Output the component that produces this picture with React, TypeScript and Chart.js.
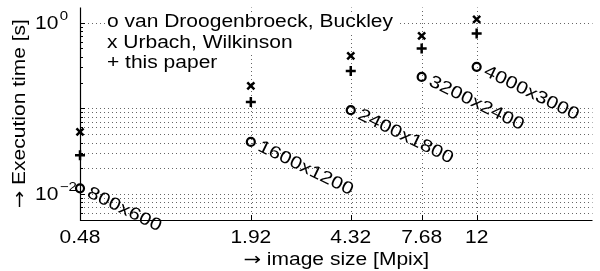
import React, { useEffect, useRef } from 'react';
import { Chart, registerables } from 'chart.js';

Chart.register(...registerables);

// ---- data ----
const sizesMpix = [0.48, 1.92, 4.32, 7.68, 12];
const resolutionLabels = ['800x600', '1600x1200', '2400x1800', '3200x2400', '4000x3000'];
const vanDroogenbroeck = [0.0117, 0.0407, 0.0953, 0.233, 0.305];
const urbachWilkinson = [0.0532, 0.183, 0.409, 0.7, 1.09];
const thisPaper = [0.0285, 0.119, 0.272, 0.499, 0.746];

const xTickValues = [0.48, 1.92, 4.32, 7.68, 12];
const xTickLabels = ['0.48', '1.92', '4.32', '7.68', '12'];
const yLabelValues = [1, 0.01];
const yLabelExponents = ['0', '\u22122'];
const yGridValues = [
  0.005, 0.006, 0.007, 0.008, 0.009, 0.01,
  0.02, 0.03, 0.04, 0.05, 0.06, 0.07, 0.08, 0.09, 0.1, 1,
];
const yTickMarkValues = [
  0.005, 0.006, 0.007, 0.008, 0.009, 0.01,
  0.02, 0.03, 0.04, 0.05, 0.06, 0.07, 0.08, 0.09, 0.1,
  0.2, 0.3, 0.4, 0.5, 0.6, 0.7, 0.8, 0.9, 1,
];
const legendLines = ['o van Droogenbroeck, Buckley', 'x Urbach, Wilkinson', '+ this paper'];
const ARROW = '\u2192';
const xTitle = ' image size [Mpix]';
const yTitle = ' Execution time [s]';

const X_MIN = 0.48;
const X_MAX = 30.72;
const Y_MIN = 0.005;
const Y_MAX = 1.5;

const FONT = '"Liberation Sans", Arial, Helvetica, sans-serif';
const ARROW_FONT = '"DejaVu Sans", sans-serif';
const STRETCH = 1.2;
const FS = 17.5;

function drawText(
  ctx: CanvasRenderingContext2D,
  text: string,
  x: number,
  y: number,
  size: number,
  align: CanvasTextAlign,
  angle = 0
) {
  ctx.save();
  ctx.translate(x, y);
  ctx.rotate(angle);
  ctx.scale(STRETCH, 1);
  ctx.font = `${size}px ${FONT}`;
  ctx.textAlign = align;
  ctx.textBaseline = 'alphabetic';
  ctx.fillStyle = '#000';
  ctx.fillText(text, 0, 0);
  ctx.restore();
}

function drawTitle(
  ctx: CanvasRenderingContext2D,
  text: string,
  x: number,
  y: number,
  angle = 0
) {
  ctx.save();
  ctx.translate(x, y);
  ctx.rotate(angle);
  ctx.scale(STRETCH, 1);
  ctx.textBaseline = 'alphabetic';
  ctx.textAlign = 'left';
  ctx.fillStyle = '#000';
  ctx.font = `${FS}px ${ARROW_FONT}`;
  const wa = ctx.measureText(ARROW).width;
  ctx.font = `${FS}px ${FONT}`;
  const wt = ctx.measureText(text).width;
  const x0 = -(wa + wt) / 2;
  ctx.font = `${FS}px ${ARROW_FONT}`;
  ctx.fillText(ARROW, x0, 0);
  ctx.font = `${FS}px ${FONT}`;
  ctx.fillText(text, x0 + wa, 0);
  ctx.restore();
}

function textWidth(ctx: CanvasRenderingContext2D, text: string, size: number) {
  ctx.save();
  ctx.font = `${size}px ${FONT}`;
  const w = ctx.measureText(text).width * STRETCH;
  ctx.restore();
  return w;
}

const gridPlugin = {
  id: 'matlabGrid',
  beforeDatasetsDraw(chart: any) {
    const ctx: CanvasRenderingContext2D = chart.ctx;
    const { left, right, top, bottom } = chart.chartArea;
    const xs = chart.scales.x;
    const ys = chart.scales.y;
    ctx.save();
    ctx.setLineDash([1, 3]);
    ctx.lineWidth = 1;
    ctx.strokeStyle = 'rgba(0,0,0,0.6)';
    for (const v of yGridValues) {
      const py = Math.round(ys.getPixelForValue(v)) + 0.5;
      if (py >= bottom - 1) continue;
      ctx.beginPath();
      ctx.moveTo(left, py);
      ctx.lineTo(right, py);
      ctx.stroke();
    }
    for (const v of xTickValues) {
      const px = Math.round(xs.getPixelForValue(v)) + 0.5;
      if (px <= left + 1) continue;
      ctx.beginPath();
      ctx.moveTo(px, bottom);
      ctx.lineTo(px, top);
      ctx.stroke();
    }
    ctx.restore();

    // legend text (with white background boxes, as in the figure)
    const lx = left + 27;
    legendLines.forEach((line, i) => {
      const by = top + 19.7 + i * 20.5;
      const w = textWidth(ctx, line, FS);
      ctx.save();
      ctx.fillStyle = '#fff';
      ctx.fillRect(lx - 2, by - 15, w + 6, 20);
      ctx.restore();
      drawText(ctx, line, lx, by, FS, 'left');
    });
  },
  afterDraw(chart: any) {
    const ctx: CanvasRenderingContext2D = chart.ctx;
    const { left, right, top, bottom } = chart.chartArea;
    const xs = chart.scales.x;
    const ys = chart.scales.y;

    ctx.save();
    ctx.setLineDash([]);
    ctx.strokeStyle = '#000';
    ctx.lineWidth = 1.2;
    ctx.beginPath();
    ctx.moveTo(left + 0.5, top);
    ctx.lineTo(left + 0.5, bottom + 0.5);
    ctx.lineTo(right, bottom + 0.5);
    ctx.stroke();
    ctx.lineWidth = 1;
    for (const v of xTickValues) {
      const px = Math.round(xs.getPixelForValue(v)) + 0.5;
      ctx.beginPath();
      ctx.moveTo(px, bottom);
      ctx.lineTo(px, bottom - 5);
      ctx.stroke();
    }
    for (const v of yTickMarkValues) {
      const py = Math.round(ys.getPixelForValue(v)) + 0.5;
      const major = Math.abs(Math.log10(v) - Math.round(Math.log10(v))) < 1e-9;
      ctx.beginPath();
      ctx.moveTo(left, py);
      ctx.lineTo(left + (major ? 5 : 3), py);
      ctx.stroke();
    }
    ctx.restore();

    xTickValues.forEach((v, i) => {
      drawText(ctx, xTickLabels[i], xs.getPixelForValue(v), bottom + 23.3, FS, 'center');
    });
    yLabelValues.forEach((v, i) => {
      const py = ys.getPixelForValue(v);
      const bx = 35;
      drawText(ctx, '10', bx, py + 6, FS, 'left');
      const w = textWidth(ctx, '10', FS);
      drawText(ctx, yLabelExponents[i], bx + w + 1.5, py - 3, 12.5, 'left');
    });
    drawTitle(ctx, xTitle, (left + right) / 2, bottom + 45);
    drawTitle(ctx, yTitle, 25, (top + bottom) / 2, -Math.PI / 2);

    const ang = (26 * Math.PI) / 180;
    sizesMpix.forEach((s, i) => {
      const px = xs.getPixelForValue(s);
      const py = ys.getPixelForValue(vanDroogenbroeck[i]);
      drawText(ctx, resolutionLabels[i], px + 6, py + 8, FS, 'left', ang);
    });
  },
};

export default function App() {
  const canvasRef = useRef<HTMLCanvasElement | null>(null);

  useEffect(() => {
    document.body.style.margin = '0';
    const canvas = canvasRef.current;
    if (!canvas) return;
    const mk = (vals: number[]) => sizesMpix.map((x, i) => ({ x, y: vals[i] }));
    const chart = new Chart(canvas, {
      type: 'scatter',
      data: {
        datasets: [
          {
            label: 'van Droogenbroeck, Buckley',
            data: mk(vanDroogenbroeck),
            pointStyle: 'circle',
            pointRadius: 4,
            pointBorderWidth: 2.2,
            borderColor: '#000',
            backgroundColor: 'rgba(0,0,0,0)',
            clip: false as any,
          },
          {
            label: 'Urbach, Wilkinson',
            data: mk(urbachWilkinson),
            pointStyle: 'crossRot',
            pointRadius: 5,
            pointBorderWidth: 2.5,
            borderColor: '#000',
            backgroundColor: '#000',
            clip: false as any,
          },
          {
            label: 'this paper',
            data: mk(thisPaper),
            pointStyle: 'cross',
            pointRadius: 5,
            pointBorderWidth: 2.5,
            borderColor: '#000',
            backgroundColor: '#000',
            clip: false as any,
          },
        ],
      },
      options: {
        responsive: false,
        animation: false,
        devicePixelRatio: 1,
        layout: { padding: { left: 80, right: 2, top: 7, bottom: 51 } },
        plugins: {
          legend: { display: false },
          tooltip: { enabled: false },
        },
        events: [],
        scales: {
          x: { type: 'logarithmic', min: X_MIN, max: X_MAX, display: false },
          y: { type: 'logarithmic', min: Y_MIN, max: Y_MAX, display: false },
        },
      },
      plugins: [gridPlugin],
    });
    return () => chart.destroy();
  }, []);

  return (
    <canvas
      ref={canvasRef}
      width={600}
      height={271}
      style={{ display: 'block', width: 600, height: 271 }}
    />
  );
}
